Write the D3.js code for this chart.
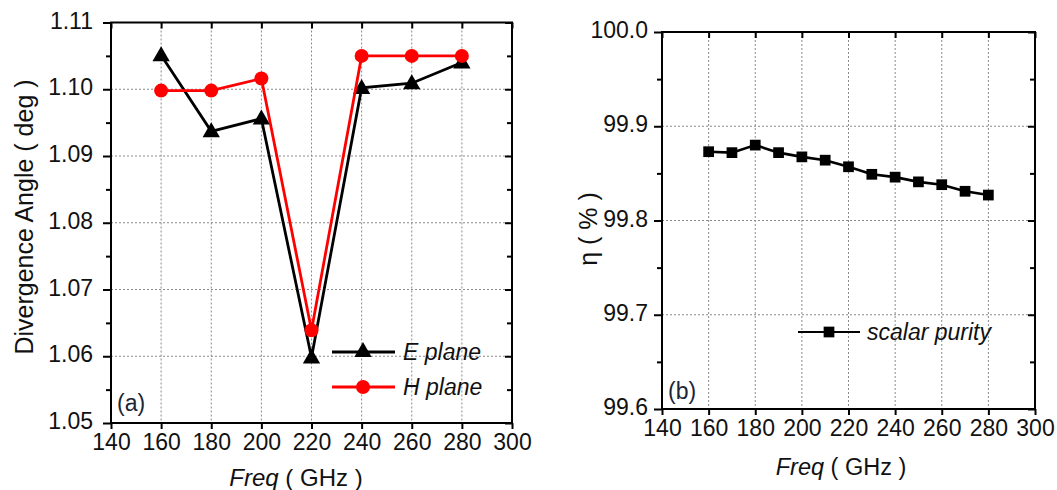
<!DOCTYPE html>
<html><head><meta charset="utf-8">
<script src="https://cdn.jsdelivr.net/npm/d3@7"></script>
<style>
body{margin:0;background:#fff;}
svg{display:block;font-family:"Liberation Sans",Arial,sans-serif;}
</style></head>
<body><svg id="c" width="1057" height="490"></svg>
<script>
// ---- data ----
const freqA = [160, 180, 200, 220, 240, 260, 280];
const ePlane = [1.1051, 1.0937, 1.0956, 1.0598, 1.1002, 1.1009, 1.1040];
const hPlane = [1.0998, 1.0998, 1.1016, 1.0639, 1.1050, 1.1050, 1.1050];
const freqB = [160, 170, 180, 190, 200, 210, 220, 230, 240, 250, 260, 270, 280];
const purity = [99.873, 99.872, 99.880, 99.872, 99.8675, 99.864, 99.857, 99.849, 99.846, 99.841, 99.838, 99.831, 99.827];
const xTicks = [140, 160, 180, 200, 220, 240, 260, 280, 300];
const yTicksA = [1.05, 1.06, 1.07, 1.08, 1.09, 1.10, 1.11];
const yTicksB = [99.6, 99.7, 99.8, 99.9, 100.0];

const svg = d3.select("#c");
const TF = 23;

function panel(o) {
  const x = d3.scaleLinear().domain([140, 300]).range([o.x0, o.x1]);
  const y = d3.scaleLinear().domain(o.yDom).range([o.y1, o.y0]);
  const g = svg.append("g");
  // grid
  g.append("g").selectAll("line").data(xTicks.slice(1, -1)).join("line")
    .attr("x1", d => x(d)).attr("x2", d => x(d)).attr("y1", o.y0).attr("y2", o.y1)
    .attr("stroke", "#8a8a8a").attr("stroke-width", 1).attr("stroke-dasharray", "2,2");
  g.append("g").selectAll("line").data(o.yTicks.slice(1, -1)).join("line")
    .attr("y1", d => y(d)).attr("y2", d => y(d)).attr("x1", o.x0).attr("x2", o.x1)
    .attr("stroke", "#8a8a8a").attr("stroke-width", 1).attr("stroke-dasharray", "2,2");

  const styleAxis = sel => {
    sel.select(".domain").remove();
    sel.selectAll(".tick line").attr("stroke", "#000").attr("stroke-width", 2);
    sel.selectAll(".tick text").attr("font-size", TF).attr("fill", "#111")
      .attr("font-family", '"Liberation Sans",Arial,sans-serif');
  };
  const step = o.yTicks[1] - o.yTicks[0];
  const minor = o.yTicks.slice(0, -1).map(d => d + step / 2);

  g.append("g").attr("transform", `translate(${o.x0},0)`)
    .call(d3.axisLeft(y).tickValues(o.yTicks).tickSize(8).tickPadding(o.lpad).tickFormat(d3.format(o.fmt)))
    .call(styleAxis).selectAll(".tick text").attr("dy", "0.24em");
  g.append("g").attr("transform", `translate(${o.x0},0)`)
    .call(d3.axisLeft(y).tickValues(minor).tickSize(5).tickFormat(""))
    .call(styleAxis);
  g.append("g").attr("transform", `translate(${o.x1},0)`)
    .call(d3.axisLeft(y).tickValues(o.yTicks).tickSize(7).tickFormat(""))
    .call(styleAxis);
  g.append("g").attr("transform", `translate(${o.x1},0)`)
    .call(d3.axisLeft(y).tickValues(minor).tickSize(5).tickFormat(""))
    .call(styleAxis);
  g.append("g").attr("transform", `translate(0,${o.y1})`)
    .call(d3.axisBottom(x).tickValues(xTicks).tickSize(6).tickPadding(o.bpad).tickFormat(d3.format("d")))
    .call(styleAxis);
  g.append("g").attr("transform", `translate(0,${o.y0})`)
    .call(d3.axisBottom(x).tickValues(xTicks).tickSize(6).tickFormat(""))
    .call(styleAxis);
  g.append("rect").attr("x", o.x0).attr("y", o.y0).attr("width", o.x1 - o.x0).attr("height", o.y1 - o.y0)
    .attr("fill", "none").attr("stroke", "#000").attr("stroke-width", 2);
  return {x, y, g};
}

// ---- panel (a) ----
const A = panel({x0: 111, x1: 512, y0: 22.5, y1: 423, yDom: [1.05, 1.11], yTicks: yTicksA, fmt: ".2f", lpad: 10, bpad: 5});
const triangle = d3.symbol().type(d3.symbolTriangle).size(130);
const lineA = d3.line().x(d => A.x(d[0])).y(d => A.y(d[1]));
const eData = freqA.map((f, i) => [f, ePlane[i]]);
const hData = freqA.map((f, i) => [f, hPlane[i]]);
A.g.append("path").datum(eData).attr("d", lineA).attr("fill", "none").attr("stroke", "#000").attr("stroke-width", 2.8);
A.g.append("g").selectAll("path").data(eData).join("path")
  .attr("d", triangle).attr("transform", d => `translate(${A.x(d[0])},${A.y(d[1]) + 1})`).attr("fill", "#000");
A.g.append("path").datum(hData).attr("d", lineA).attr("fill", "none").attr("stroke", "#f00").attr("stroke-width", 2.8);
A.g.append("g").selectAll("circle").data(hData).join("circle")
  .attr("cx", d => A.x(d[0])).attr("cy", d => A.y(d[1])).attr("r", 7).attr("fill", "#f00");

// legend (a)
const legA = [{name: "E plane", c: "#000", sym: "tri", y: 352}, {name: "H plane", c: "#f00", sym: "circ", y: 387}];
legA.forEach(l => {
  A.g.append("line").attr("x1", 332).attr("x2", 395).attr("y1", l.y).attr("y2", l.y).attr("stroke", l.c).attr("stroke-width", 2.8);
  if (l.sym === "tri") A.g.append("path").attr("d", triangle).attr("transform", `translate(363,${l.y})`).attr("fill", l.c);
  else A.g.append("circle").attr("cx", 363).attr("cy", l.y).attr("r", 7).attr("fill", l.c);
  A.g.append("text").attr("x", 403).attr("y", l.y + 8).attr("font-size", 23).attr("font-style", "italic").attr("fill", "#111").text(l.name);
});
A.g.append("text").attr("x", 117).attr("y", 411).attr("font-size", 23).attr("fill", "#1b2535").text("(a)");
svg.append("text").attr("transform", "translate(33,217) rotate(-90)").attr("text-anchor", "middle")
  .attr("font-size", 25).attr("fill", "#111").text("Divergence Angle  ( deg )");
const xtA = svg.append("text").attr("x", 296).attr("y", 486).attr("text-anchor", "middle").attr("font-size", 24).attr("fill", "#111");
xtA.append("tspan").attr("font-style", "italic").text("Freq");
xtA.append("tspan").text(" ( GHz )");

// ---- panel (b) ----
const B = panel({x0: 662, x1: 1035, y0: 32, y1: 409, yDom: [99.6, 100.0], yTicks: yTicksB, fmt: ".1f", lpad: 6, bpad: 5});
const square = d3.symbol().type(d3.symbolSquare).size(115);
const pData = freqB.map((f, i) => [f, purity[i]]);
B.g.append("path").datum(pData).attr("d", d3.line().x(d => B.x(d[0])).y(d => B.y(d[1])))
  .attr("fill", "none").attr("stroke", "#000").attr("stroke-width", 2.6);
B.g.append("g").selectAll("path").data(pData).join("path")
  .attr("d", square).attr("transform", d => `translate(${B.x(d[0])},${B.y(d[1])})`).attr("fill", "#000");
B.g.append("line").attr("x1", 798).attr("x2", 860).attr("y1", 332).attr("y2", 332).attr("stroke", "#000").attr("stroke-width", 2);
B.g.append("path").attr("d", square).attr("transform", "translate(829,332)").attr("fill", "#000");
B.g.append("text").attr("x", 867).attr("y", 340).attr("font-size", 23).attr("font-style", "italic").attr("fill", "#111").text("scalar purity");
B.g.append("text").attr("x", 668).attr("y", 399).attr("font-size", 23).attr("fill", "#1b2535").text("(b)");
svg.append("text").attr("transform", "translate(597,229) rotate(-90)").attr("text-anchor", "middle")
  .attr("font-size", 25).attr("fill", "#111").text("η ( % )");
const xtB = svg.append("text").attr("x", 841).attr("y", 475).attr("text-anchor", "middle").attr("font-size", 23.5).attr("fill", "#111");
xtB.append("tspan").attr("font-style", "italic").text("Freq");
xtB.append("tspan").text(" ( GHz )");
</script></body></html>
